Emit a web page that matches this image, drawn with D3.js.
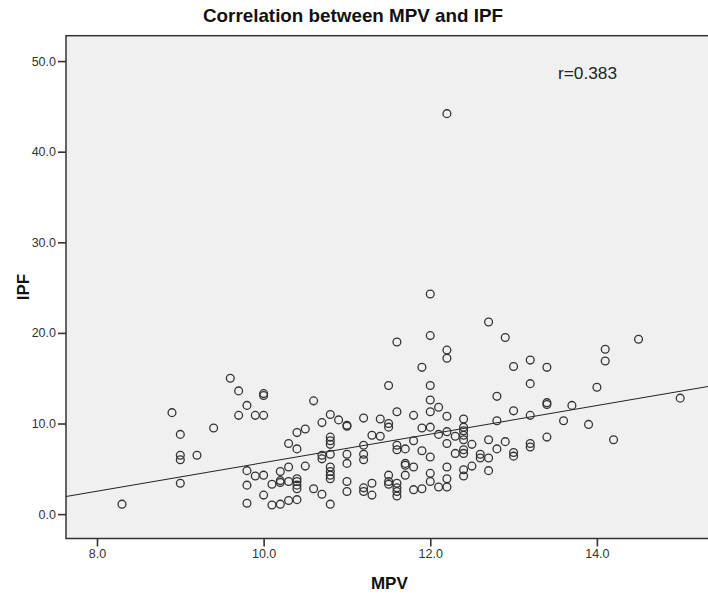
<!DOCTYPE html>
<html>
<head>
<meta charset="utf-8">
<script src="https://cdn.jsdelivr.net/npm/d3@7"></script>
<style>
  html, body { margin: 0; padding: 0; background: #ffffff; }
  svg { display: block; }
  text { font-family: "Liberation Sans", Arial, sans-serif; }
</style>
</head>
<body>
<svg id="chart" width="708" height="597"></svg>
<script>
// MPV values (one entry per distinct MPV) and the IPF readings observed at each
const mpvGroups = [8.3, 8.9, 9.0, 9.2, 9.4, 9.6, 9.7, 9.8, 9.9, 10.0, 10.1, 10.2, 10.3, 10.4,
  10.5, 10.6, 10.7, 10.8, 10.9, 11.0, 11.2, 11.3, 11.4, 11.5, 11.6, 11.7, 11.8, 11.9, 12.0,
  12.1, 12.2, 12.3, 12.4, 12.5, 12.6, 12.7, 12.8, 12.9, 13.0, 13.2, 13.4, 13.6, 13.7, 13.9,
  14.0, 14.1, 14.2, 14.5, 15.0];
const ipfGroups = [
  [1.1],
  [11.2],
  [8.8, 6.5, 6.0, 3.4],
  [6.5],
  [9.5],
  [15.0],
  [13.6, 10.9],
  [12.0, 4.8, 3.2, 1.2],
  [10.9, 4.2],
  [13.3, 13.1, 10.9, 4.3, 2.1],
  [3.3, 1.0],
  [4.7, 3.7, 3.5, 1.1],
  [7.8, 5.2, 3.6, 1.5],
  [9.0, 7.2, 3.9, 3.6, 3.2, 2.8, 1.6],
  [9.4, 5.3],
  [12.5, 2.8],
  [10.1, 6.5, 6.1, 2.2],
  [11.0, 8.5, 8.1, 7.7, 6.6, 5.2, 4.7, 4.3, 3.9, 1.1],
  [10.4],
  [9.8, 9.7, 6.6, 5.6, 3.6, 2.5],
  [10.6, 7.6, 6.6, 6.0, 2.9, 2.5],
  [8.7, 3.4, 2.1],
  [10.5, 8.6],
  [14.2, 10.0, 9.6, 4.3, 3.6, 3.3],
  [19.0, 11.3, 7.6, 7.1, 3.4, 2.9, 2.5, 2.0],
  [7.2, 5.6, 5.4, 4.3],
  [10.9, 8.1, 5.2, 2.7],
  [16.2, 9.5, 7.0, 2.8],
  [24.3, 19.7, 14.2, 12.6, 11.3, 9.6, 6.3, 4.5, 3.6],
  [11.8, 8.8, 3.0],
  [44.2, 18.1, 17.2, 10.8, 9.1, 7.8, 5.2, 3.9, 3.0],
  [8.6, 6.7],
  [10.5, 9.6, 9.2, 8.7, 8.2, 7.1, 6.7, 4.9, 4.2],
  [7.7, 5.3],
  [6.6, 6.2],
  [21.2, 8.2, 6.2, 4.8],
  [13.0, 10.3, 7.2],
  [19.5, 8.0],
  [16.3, 11.4, 6.8, 6.4],
  [17.0, 14.4, 10.9, 7.8, 7.4],
  [16.2, 12.3, 12.1, 8.5],
  [10.3],
  [12.0],
  [9.9],
  [14.0],
  [18.2, 16.9],
  [8.2],
  [19.3],
  [12.8]
];

// Linear fit line and correlation label
const fitIntercept = -10.07;
const fitSlope = 1.575;
const corrLabel = "r=0.383";

// Axis ticks
const xTickValues = [8, 10, 12, 14];
const yTickValues = [0, 10, 20, 30, 40, 50];

const points = mpvGroups.flatMap((m, i) => ipfGroups[i].map(v => ({ mpv: m, ipf: v })));

const svg = d3.select("#chart");
const plot = { left: 66, top: 35.7, right: 712.7, bottom: 538.5 };

const x = d3.scaleLinear().domain([7.628, 15.39]).range([plot.left, plot.right]);
const y = d3.scaleLinear().domain([-2.69, 52.8]).range([plot.bottom, plot.top]);

// Plot background
svg.append("rect")
  .attr("x", plot.left).attr("y", plot.top)
  .attr("width", plot.right - plot.left).attr("height", plot.bottom - plot.top)
  .attr("fill", "#f0f0f0");

svg.append("clipPath").attr("id", "plotClip")
  .append("rect")
  .attr("x", plot.left).attr("y", plot.top)
  .attr("width", plot.right - plot.left).attr("height", plot.bottom - plot.top);

const inner = svg.append("g").attr("clip-path", "url(#plotClip)");

// Fit line across the whole x range
const xd = x.domain();
inner.append("line")
  .attr("x1", x(xd[0])).attr("y1", y(fitIntercept + fitSlope * xd[0]))
  .attr("x2", x(xd[1])).attr("y2", y(fitIntercept + fitSlope * xd[1]))
  .attr("stroke", "#222").attr("stroke-width", 1.1);

// Points
inner.selectAll("circle.pt")
  .data(points)
  .join("circle")
  .attr("class", "pt")
  .attr("cx", d => x(d.mpv))
  .attr("cy", d => y(d.ipf))
  .attr("r", 3.9)
  .attr("fill", "none")
  .attr("stroke", "#333")
  .attr("stroke-width", 1.3);

// Frame
svg.append("rect")
  .attr("x", plot.left).attr("y", plot.top)
  .attr("width", plot.right - plot.left).attr("height", plot.bottom - plot.top)
  .attr("fill", "none").attr("stroke", "#333").attr("stroke-width", 1.5);

// Axes
const fmt = d3.format(".1f");
const yAxis = svg.append("g")
  .attr("transform", `translate(${plot.left},0)`)
  .call(d3.axisLeft(y).tickValues(yTickValues).tickFormat(fmt).tickSize(8).tickSizeOuter(0).tickPadding(2));
const xAxis = svg.append("g")
  .attr("transform", `translate(0,${plot.bottom})`)
  .call(d3.axisBottom(x).tickValues(xTickValues).tickFormat(fmt).tickSize(8).tickSizeOuter(0).tickPadding(3));

[yAxis, xAxis].forEach(g => {
  g.select(".domain").remove();
  g.selectAll(".tick line").attr("stroke", "#333").attr("stroke-width", 1.6);
  g.selectAll(".tick text")
    .attr("fill", "#333")
    .style("font-family", "'Liberation Sans', Arial, sans-serif")
    .style("font-size", "12.5px");
});

// Chart title, centred on the page
svg.append("text")
  .attr("x", 353).attr("y", 22)
  .attr("text-anchor", "middle")
  .attr("textLength", 300).attr("lengthAdjust", "spacingAndGlyphs")
  .style("font-size", "19px").style("font-weight", "bold")
  .attr("fill", "#111")
  .text("Correlation between MPV and IPF");

// Axis titles, centred on the plot frame
svg.append("text")
  .attr("x", (plot.left + plot.right) / 2).attr("y", 589)
  .attr("text-anchor", "middle")
  .style("font-size", "17px").style("font-weight", "bold")
  .attr("fill", "#111")
  .text("MPV");

svg.append("text")
  .attr("transform", `translate(29,${(plot.top + plot.bottom) / 2}) rotate(-90)`)
  .attr("text-anchor", "middle")
  .style("font-size", "17px").style("font-weight", "bold")
  .attr("fill", "#111")
  .text("IPF");

svg.append("text")
  .attr("x", 558).attr("y", 79)
  .attr("textLength", 59).attr("lengthAdjust", "spacingAndGlyphs")
  .style("font-size", "17px")
  .attr("fill", "#222")
  .text(corrLabel);
</script>
</body>
</html>
